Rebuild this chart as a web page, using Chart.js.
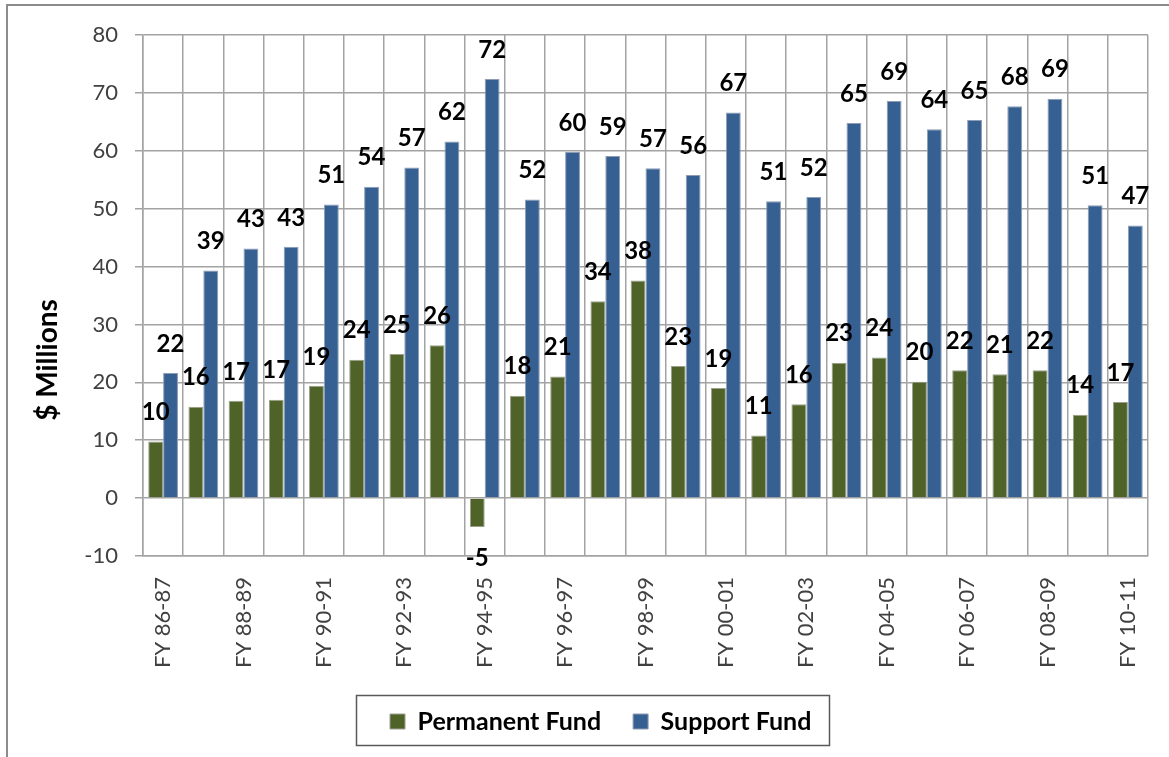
<!DOCTYPE html>
<html><head><meta charset="utf-8">
<script src="https://cdn.jsdelivr.net/npm/chart.js@4.4.1/dist/chart.umd.min.js"></script>
<style>
html,body{margin:0;padding:0;background:#fff;}
#wrap{position:relative;width:1169px;height:757px;}
</style></head><body>
<div id="wrap"><canvas id="c" width="1169" height="757"></canvas></div>
<script>
const categories = ['FY 86-87','FY 87-88','FY 88-89','FY 89-90','FY 90-91','FY 91-92','FY 92-93','FY 93-94','FY 94-95','FY 95-96','FY 96-97','FY 97-98','FY 98-99','FY 99-00','FY 00-01','FY 01-02','FY 02-03','FY 03-04','FY 04-05','FY 05-06','FY 06-07','FY 07-08','FY 08-09','FY 09-10','FY 10-11'];
const permanentFund = [9.8, 15.8, 16.8, 17.0, 19.4, 23.9, 24.9, 26.4, -5.0, 17.7, 21.0, 34.0, 37.6, 22.8, 19.0, 10.8, 16.2, 23.4, 24.3, 20.1, 22.1, 21.4, 22.1, 14.4, 16.6];
const supportFund = [21.6, 39.3, 43.1, 43.4, 50.7, 53.8, 57.1, 61.6, 72.4, 51.6, 59.8, 59.1, 57.0, 55.8, 66.6, 51.3, 52.0, 64.8, 68.6, 63.7, 65.3, 67.7, 69.0, 50.6, 47.1];
const seriesNames = ['Permanent Fund', 'Support Fund'];
const yMin = -10, yMax = 80, yStep = 10;
const yTitle = '$ Millions';

const FONT = 'Lato, "Open Sans", sans-serif';
const GRID = '#a3a3a3';

const frame = {
  id: 'frame',
  afterLayout(chart) {
    const lg = chart.legend;
    if (!lg || !lg.lineWidths) return;
    const pad = lg.options.labels.padding;
    const firstX = (lg.left + pad + lg.right - lg.lineWidths[0]) / 2;
    const shift = 390 - firstX;
    lg.left += shift;
    lg.right += shift;
  },
  beforeDraw(chart) {
    const ctx = chart.ctx;
    ctx.save();
    ctx.strokeStyle = '#8c8c8c';
    ctx.lineWidth = 2;
    ctx.strokeRect(7, 5, chart.width + 20, chart.height + 20);
    ctx.restore();
  },
  afterDraw(chart) {
    const ctx = chart.ctx;
    // y-axis title
    ctx.save();
    ctx.translate(48, 360);
    ctx.rotate(-Math.PI / 2);
    ctx.font = 'bold 28px ' + FONT;
    ctx.fillStyle = '#000';
    ctx.textAlign = 'center';
    ctx.textBaseline = 'middle';
    ctx.fillText(yTitle, 0, 0);
    ctx.restore();
    // data labels
    ctx.save();
    ctx.font = 'bold 24px ' + FONT;
    ctx.fillStyle = '#000';
    ctx.textAlign = 'center';
    ctx.textBaseline = 'middle';
    chart.data.datasets.forEach((ds, di) => {
      chart.getDatasetMeta(di).data.forEach((bar, i) => {
        const v = ds.data[i];
        const off = v >= 0 ? -29 : 31;
        ctx.fillText(String(Math.round(v)), bar.x, bar.y + off);
      });
    });
    ctx.restore();
    // legend border
    const lg = chart.legend;
    if (lg && lg.legendHitBoxes && lg.legendHitBoxes.length) {
      const hb = lg.legendHitBoxes;
      const l = hb[0].left - 34;
      const r = hb[hb.length - 1].left + hb[hb.length - 1].width + 18;
      ctx.save();
      ctx.strokeStyle = '#595959';
      ctx.lineWidth = 1.5;
      ctx.strokeRect(Math.round(l) + 0.5, 695.5, Math.round(r - l), 50);
      ctx.restore();
    }
  }
};

new Chart(document.getElementById('c'), {
  type: 'bar',
  data: {
    labels: categories,
    datasets: [
      { label: seriesNames[0], data: permanentFund, backgroundColor: '#4F6228', borderColor: '#9aa08c', borderWidth: 1, categoryPercentage: 0.74, barPercentage: 1.0 },
      { label: seriesNames[1], data: supportFund, backgroundColor: '#376092', borderColor: '#8e9db4', borderWidth: 1, categoryPercentage: 0.74, barPercentage: 1.0 }
    ]
  },
  options: {
    responsive: false,
    devicePixelRatio: 1,
    animation: false,
    layout: { padding: { left: 0, right: 21, top: 35, bottom: 13 } },
    plugins: {
      tooltip: { enabled: false },
      legend: {
        position: 'bottom',
        labels: {
          boxWidth: 15, boxHeight: 15, padding: 32,
          color: '#000',
          font: { family: FONT, size: 25, weight: 'bold' }
        }
      }
    },
    scales: {
      y: {
        min: yMin, max: yMax,
        ticks: { stepSize: yStep, color: '#404040', padding: 17, font: { family: FONT, size: 22 } },
        grid: { color: GRID, lineWidth: 1.5, tickLength: 8, drawTicks: true },
        border: { color: GRID, width: 1.5 },
        afterFit(scale) { scale.width = 143; }
      },
      x: {
        grid: { color: GRID, lineWidth: 1.5, offset: true, drawTicks: false },
        border: { color: GRID, width: 1.5 },
        ticks: {
          autoSkip: false, minRotation: 90, maxRotation: 90, padding: 21,
          color: '#404040', font: { family: FONT, size: 22 },
          callback(val, i) { return i % 2 === 0 ? categories[i] : ''; }
        },
        afterFit(scale) {
          const lh = scale.chart.legend ? scale.chart.legend.height : 0;
          scale.height = 757 - 13 - lh - 556;
          scale.paddingLeft = 0;
          scale.paddingRight = 0;
        }
      }
    }
  },
  plugins: [frame]
});
</script>
</body></html>
